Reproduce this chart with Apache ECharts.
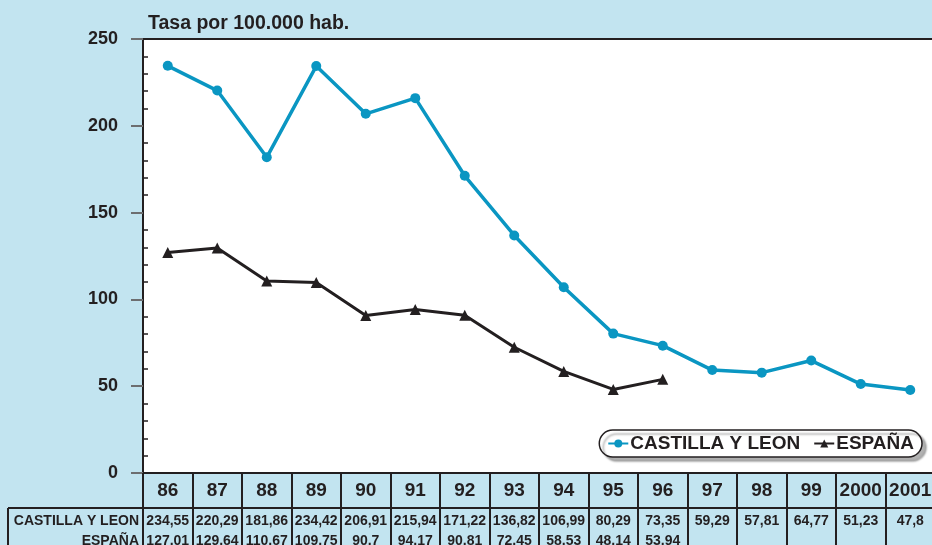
<!DOCTYPE html>
<html>
<head>
<meta charset="utf-8">
<script src="https://cdn.jsdelivr.net/npm/echarts@6/dist/echarts.min.js"></script>
<style>
  html, body { margin: 0; padding: 0; background: #c2e4f0; }
  #chart { width: 932px; height: 545px; }
</style>
</head>
<body>
<div id="chart"></div>
<script>
var years = ['86','87','88','89','90','91','92','93','94','95','96','97','98','99','2000','2001'];
var castilla = [234.55, 220.29, 181.86, 234.42, 206.91, 215.94, 171.22, 136.82, 106.99, 80.29, 73.35, 59.29, 57.81, 64.77, 51.23, 47.8];
var espana = [127.01, 129.64, 110.67, 109.75, 90.7, 94.17, 90.81, 72.45, 58.53, 48.14, 53.94];
var yTicks = [0, 50, 100, 150, 200, 250];

function fmt(v){
    return v == null ? '' : String(v).replace('.', ',');
}
var castillaTxt = years.map(function(y, i){ return fmt(castilla[i]); });
var espanaTxt = years.map(function(y, i){ return fmt(espana[i]); });

var font = '"Liberation Sans", Arial, sans-serif';
var dark = '#231f20';

var myChart = echarts.init(document.getElementById('chart'));
var option = {
    backgroundColor: '#c2e4f0',
    animation: false,
    title: {
        text: 'Tasa por 100.000 hab.',
        left: 143,
        top: 9,
        textStyle: { fontFamily: font, fontSize: 19.5, fontWeight: 'bold', color: dark }
    },
    legend: {
        right: 10,
        top: 430,
        backgroundColor: '#fff',
        borderColor: dark,
        borderWidth: 1.5,
        borderRadius: 14,
        padding: [4, 8],
        itemGap: 13,
        itemWidth: 20,
        itemHeight: 10,
        shadowColor: 'rgba(0,0,0,0.3)',
        shadowBlur: 2,
        shadowOffsetX: 4,
        shadowOffsetY: 4,
        textStyle: { fontFamily: font, fontSize: 19, fontWeight: 'bold', color: dark, padding: [0, 0, 0, -3] },
        data: ['CASTILLA Y LEON', 'ESPAÑA']
    },
    grid: {
        left: 143,
        top: 39,
        right: -3,
        bottom: 72,
        outerBoundsMode: 'none',
        show: true,
        backgroundColor: '#fff',
        borderColor: dark,
        borderWidth: 2
    },
    xAxis: [{
        type: 'category',
        data: years,
        boundaryGap: true,
        axisLine: { lineStyle: { color: dark, width: 2 } },
        axisTick: { show: true, length: 72, lineStyle: { color: dark, width: 2 } },
        axisLabel: { interval: 0, margin: 8, fontFamily: font, fontSize: 19, fontWeight: 'bold', color: dark },
        splitLine: { show: false }
    }, {
        type: 'category',
        data: castillaTxt,
        position: 'bottom',
        offset: 37,
        axisLine: { show: false },
        axisTick: { show: false },
        axisLabel: { interval: 0, margin: 4, fontFamily: font, fontSize: 14, fontWeight: 'bold', color: dark }
    }, {
        type: 'category',
        data: espanaTxt,
        position: 'bottom',
        offset: 57,
        axisLine: { show: false },
        axisTick: { show: false },
        axisLabel: { interval: 0, margin: 4, fontFamily: font, fontSize: 14, fontWeight: 'bold', color: dark }
    }],
    yAxis: [{
        type: 'value',
        min: yTicks[0],
        max: yTicks[yTicks.length - 1],
        interval: 50,
        axisLine: { show: true, lineStyle: { color: dark, width: 2 } },
        axisTick: { show: true, length: 12, lineStyle: { color: '#6d6e70', width: 2 } },
        axisLabel: { margin: 25, fontFamily: font, fontSize: 18, fontWeight: 'bold', color: dark },
        splitLine: { show: false }
    }, {
        type: 'value',
        position: 'left',
        min: yTicks[0],
        max: yTicks[yTicks.length - 1],
        interval: 50,
        axisLine: { show: false },
        axisTick: { show: false, inside: true },
        minorTick: { show: true, splitNumber: 5, length: 5, lineStyle: { color: dark, width: 1.5 } },
        axisLabel: { show: false },
        splitLine: { show: false }
    }],
    series: [{
        name: 'CASTILLA Y LEON',
        type: 'line',
        data: castilla,
        symbol: 'circle',
        symbolSize: 10,
        lineStyle: { color: '#0a96c2', width: 3.5 },
        itemStyle: { color: '#0a96c2' },
        z: 3
    }, {
        name: 'ESPAÑA',
        type: 'line',
        data: espana,
        symbol: 'triangle',
        symbolSize: 11,
        lineStyle: { color: dark, width: 3 },
        itemStyle: { color: dark },
        z: 2
    }],
    graphic: [{
        type: 'line',
        shape: { x1: 8, y1: 508, x2: 932, y2: 508 },
        style: { stroke: dark, lineWidth: 2 }
    }, {
        type: 'line',
        shape: { x1: 8, y1: 508, x2: 8, y2: 545 },
        style: { stroke: dark, lineWidth: 2 }
    }, {
        type: 'text',
        right: 932 - 139,
        top: 514,
        style: { text: 'CASTILLA Y LEON', font: 'bold 14px ' + font, fill: dark, textAlign: 'right' }
    }, {
        type: 'text',
        right: 932 - 139,
        top: 534,
        style: { text: 'ESPAÑA', font: 'bold 14px ' + font, fill: dark, textAlign: 'right' }
    }]
};
myChart.setOption(option);
</script>
</body>
</html>
